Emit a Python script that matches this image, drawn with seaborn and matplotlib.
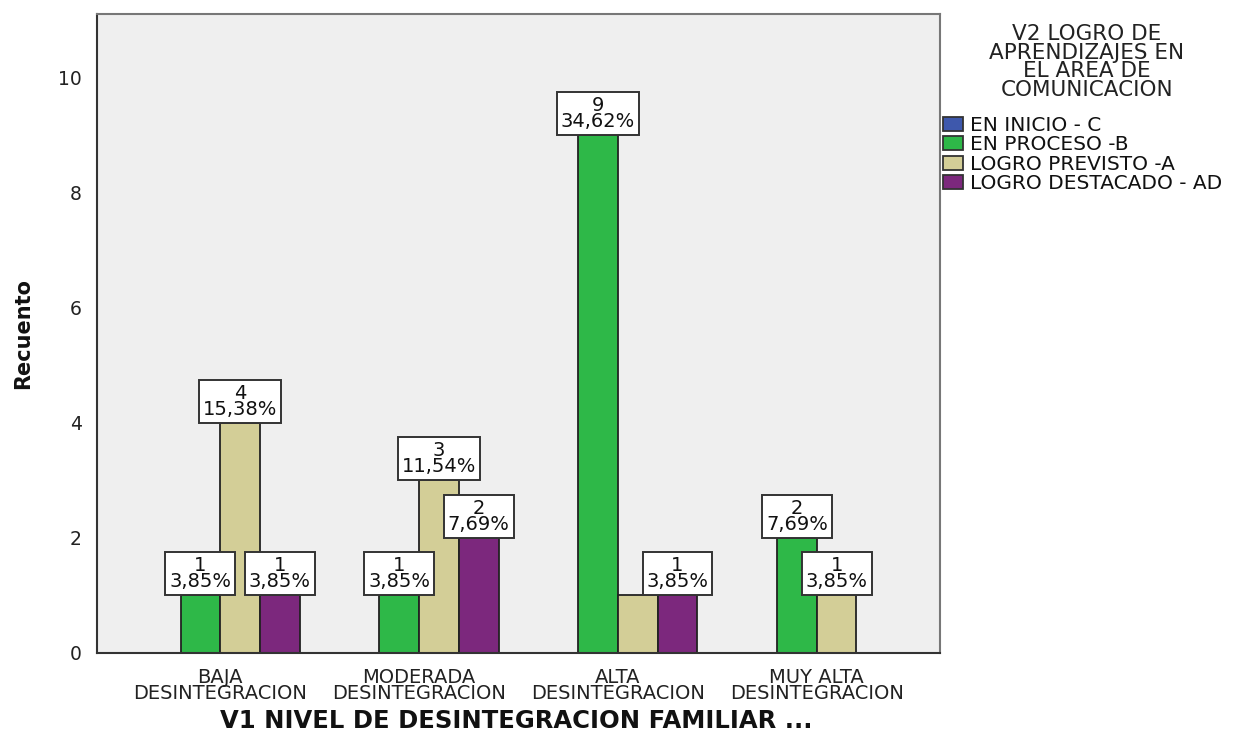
import matplotlib
matplotlib.use("Agg")
import matplotlib.pyplot as plt
import seaborn as sns
import pandas as pd

categories = ["BAJA\nDESINTEGRACION", "MODERADA\nDESINTEGRACION",
              "ALTA\nDESINTEGRACION", "MUY ALTA\nDESINTEGRACION"]
series_names = ["EN INICIO - C", "EN PROCESO -B", "LOGRO PREVISTO -A", "LOGRO DESTACADO - AD"]
en_inicio = [0, 0, 0, 0]
en_proceso = [1, 1, 9, 2]
logro_previsto = [4, 3, 1, 1]
logro_destacado = [1, 2, 1, 0]
total = 26
# labels the reference hides (overlap avoidance): (series, category)
hidden_labels = [("LOGRO PREVISTO -A", "ALTA\nDESINTEGRACION")]
colors = ["#3E58AC", "#2EB848", "#D3CE97", "#7C287D"]

rows = []
for name, vals in zip(series_names, [en_inicio, en_proceso, logro_previsto, logro_destacado]):
    for cat, v in zip(categories, vals):
        rows.append({"cat": cat, "serie": name, "n": v})
df = pd.DataFrame(rows)

sns.set_theme(style="white")
plt.rcParams["font.family"] = ["DejaVu Sans"]

fig = plt.figure(figsize=(12.37, 7.35), dpi=100)
ax = fig.add_axes([97/1237, 1-653/735, (940-97)/1237, (653-14)/735])
ax.set_facecolor("#EFEFEF")

sns.barplot(data=df, x="cat", y="n", hue="serie", order=categories, hue_order=series_names,
            palette=colors, width=0.8, edgecolor="#222222", linewidth=1.3, ax=ax,
            errorbar=None, saturation=1)

for name, cont in zip(series_names, ax.containers):
    labels = []
    for cat, bar in zip(categories, cont):
        h = bar.get_height()
        if h > 0 and (name, cat) not in hidden_labels:
            labels.append(f"{int(round(h))}\n{h/total*100:.2f}%".replace(".", ","))
        else:
            labels.append("")
    texts = ax.bar_label(cont, labels=labels, padding=3.0, fontsize=14, linespacing=0.8,
                         color="#111111",
                         bbox=dict(boxstyle="square,pad=0.2", fc="white", ec="#333333", lw=1.4))
    for t in texts:
        t.set_multialignment("center")

ax.set_xlim(-0.62, 3.62)
ax.set_ylim(0, 11.11)
ax.set_yticks([0, 2, 4, 6, 8, 10])
ax.tick_params(axis="y", length=10, width=1.5, color="#333333", pad=1, labelsize=13.5, labelcolor="#222222")
ax.tick_params(axis="x", length=7, width=1.5, color="#333333", pad=4, labelsize=14, labelcolor="#222222")
for lbl in ax.get_xticklabels():
    lbl.set_linespacing(0.78)

for s in ["left", "bottom"]:
    ax.spines[s].set_color("#333333")
    ax.spines[s].set_linewidth(1.5)
for s in ["top", "right"]:
    ax.spines[s].set_color("#777777")
    ax.spines[s].set_linewidth(1.5)

ax.set_ylabel("Recuento", fontsize=15, fontweight="bold", color="#111111")
ax.yaxis.set_label_coords(-0.076, 0.5)
ax.set_xlabel("V1 NIVEL DE DESINTEGRACION FAMILIAR ...", fontsize=17.5, fontweight="bold", color="#111111")
ax.xaxis.set_label_coords(0.497, -0.0875)
ax.xaxis.label.set_va("top")

handles, labs = ax.get_legend_handles_labels()
leg = ax.legend(handles, labs, loc="upper left", bbox_to_anchor=(1.0036, 1 - 102/639), frameon=False,
                fontsize=14.5, handlelength=1.0, handleheight=0.7,
                handletextpad=0.35, labelspacing=0.02, borderaxespad=0, borderpad=0)
for t in leg.get_texts():
    t.set_color("#111111")
for p in leg.get_patches():
    p.set_edgecolor("#333333")

fig.text(1087/1237, 1 - 24/735, "V2 LOGRO DE\nAPRENDIZAJES EN\nEL AREA DE\nCOMUNICACION",
         ha="center", va="top", fontsize=15.5, linespacing=0.92, color="#222222",
         multialignment="center")

fig.savefig("out.png", dpi=100)
